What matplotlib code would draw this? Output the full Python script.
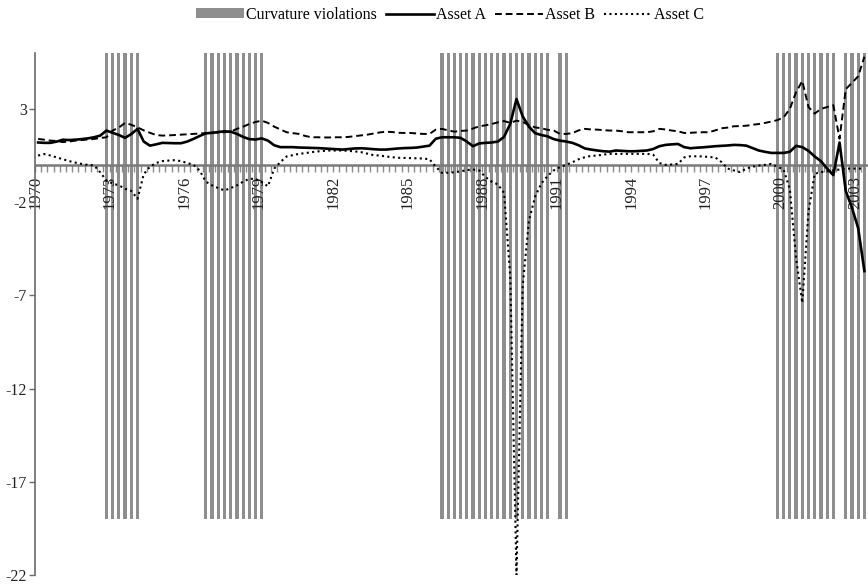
import numpy as np
import matplotlib
matplotlib.use("Agg")
import matplotlib.pyplot as plt
from matplotlib.patches import Patch
from matplotlib.lines import Line2D

plt.rcParams['font.family'] = ['Liberation Serif', 'DejaVu Serif']
plt.rcParams['axes.unicode_minus'] = False

# --- data: quarterly values, 1970Q1 .. 2003Q2 (one row per year) ---
start_year = 1970

asset_a = [
    1.20, 1.18, 1.18, 1.25,   # 1970
    1.35, 1.33, 1.35, 1.38,   # 1971
    1.42, 1.48, 1.57, 1.84,   # 1972
    1.72, 1.60, 1.45, 1.65,   # 1973
    1.93, 1.25, 1.03, 1.10,   # 1974
    1.18, 1.17, 1.16, 1.16,   # 1975
    1.25, 1.39, 1.55, 1.69,   # 1976
    1.72, 1.76, 1.80, 1.78,   # 1977
    1.66, 1.50, 1.38, 1.36,   # 1978
    1.42, 1.30, 1.05, 0.95,   # 1979
    0.95, 0.95, 0.93, 0.92,   # 1980
    0.91, 0.90, 0.88, 0.86,   # 1981
    0.84, 0.82, 0.85, 0.88,   # 1982
    0.89, 0.87, 0.84, 0.82,   # 1983
    0.82, 0.85, 0.88, 0.90,   # 1984
    0.91, 0.93, 0.98, 1.03,   # 1985
    1.40, 1.48, 1.48, 1.48,   # 1986
    1.45, 1.25, 1.00, 1.15,   # 1987
    1.18, 1.20, 1.25, 1.50,   # 1988
    2.20, 3.53, 2.60, 2.05,   # 1989
    1.70, 1.60, 1.53, 1.38,   # 1990
    1.30, 1.25, 1.18, 1.05,   # 1991
    0.88, 0.82, 0.77, 0.73,   # 1992
    0.71, 0.77, 0.75, 0.73,   # 1993
    0.73, 0.75, 0.77, 0.85,   # 1994
    1.00, 1.07, 1.10, 1.12,   # 1995
    0.95, 0.89, 0.92, 0.94,   # 1996
    0.97, 1.00, 1.02, 1.04,   # 1997
    1.07, 1.06, 1.03, 0.90,   # 1998
    0.77, 0.70, 0.64, 0.64,   # 1999
    0.64, 0.70, 1.02, 0.95,   # 2000
    0.75, 0.45, 0.20, -0.20,  # 2001
    -0.55, 1.20, -1.40, -2.30,  # 2002
    -3.40, -5.70,             # 2003
]

asset_b = [
    1.39, 1.35, 1.30, 1.28,   # 1970
    1.22, 1.25, 1.30, 1.33,   # 1971
    1.36, 1.39, 1.44, 1.48,   # 1972
    1.84, 2.00, 2.25, 2.15,   # 1973
    2.01, 1.85, 1.72, 1.60,   # 1974
    1.57, 1.58, 1.60, 1.62,   # 1975
    1.64, 1.66, 1.68, 1.70,   # 1976
    1.72, 1.74, 1.75, 1.78,   # 1977
    1.93, 2.05, 2.19, 2.30,   # 1978
    2.37, 2.25, 2.05, 1.90,   # 1979
    1.75, 1.70, 1.66, 1.55,   # 1980
    1.48, 1.48, 1.47, 1.47,   # 1981
    1.48, 1.48, 1.50, 1.54,   # 1982
    1.58, 1.62, 1.68, 1.74,   # 1983
    1.78, 1.76, 1.72, 1.71,   # 1984
    1.71, 1.68, 1.66, 1.66,   # 1985
    1.89, 1.93, 1.85, 1.78,   # 1986
    1.82, 1.84, 1.95, 2.07,   # 1987
    2.12, 2.19, 2.28, 2.35,   # 1988
    2.25, 2.37, 2.30, 2.14,   # 1989
    2.01, 1.96, 1.88, 1.84,   # 1990
    1.66, 1.66, 1.70, 1.85,   # 1991
    1.93, 1.90, 1.89, 1.86,   # 1992
    1.84, 1.84, 1.80, 1.75,   # 1993
    1.75, 1.75, 1.75, 1.80,   # 1994
    1.93, 1.90, 1.84, 1.80,   # 1995
    1.71, 1.72, 1.74, 1.75,   # 1996
    1.75, 1.85, 1.96, 2.00,   # 1997
    2.07, 2.08, 2.10, 2.15,   # 1998
    2.19, 2.25, 2.32, 2.40,   # 1999
    2.55, 3.00, 3.90, 4.50,   # 2000
    3.10, 2.75, 3.00, 3.10,   # 2001
    3.20, 1.40, 4.06, 4.40,   # 2002
    4.75, 5.80,               # 2003
]

asset_c = [
    0.50, 0.58, 0.50, 0.40,   # 1970
    0.30, 0.20, 0.12, 0.05,   # 1971
    0.00, -0.03, -0.40, -0.84,  # 1972
    -1.00, -1.10, -1.28, -1.40,  # 1973
    -1.82, -0.50, -0.10, 0.10,  # 1974
    0.20, 0.23, 0.25, 0.20,   # 1975
    0.10, 0.00, -0.30, -0.90,  # 1976
    -1.10, -1.25, -1.37, -1.25,  # 1977
    -1.10, -0.90, -0.75, -0.75,  # 1978
    -0.93, -1.15, -0.20, 0.15,  # 1979
    0.45, 0.52, 0.59, 0.63,   # 1980
    0.68, 0.72, 0.75, 0.77,   # 1981
    0.77, 0.77, 0.75, 0.72,   # 1982
    0.68, 0.60, 0.52, 0.50,   # 1983
    0.45, 0.41, 0.38, 0.37,   # 1984
    0.36, 0.35, 0.34, 0.30,   # 1985
    -0.10, -0.43, -0.42, -0.40,  # 1986
    -0.35, -0.28, -0.25, -0.30,  # 1987
    -0.65, -0.90, -1.05, -1.50,  # 1988
    -6.00, -22.00, -6.50, -3.00,  # 1989
    -1.70, -1.00, -0.60, -0.30,  # 1990
    -0.12, 0.00, 0.14, 0.30,  # 1991
    0.41, 0.48, 0.50, 0.55,   # 1992
    0.59, 0.59, 0.59, 0.59,   # 1993
    0.59, 0.59, 0.59, 0.55,   # 1994
    0.10, 0.00, 0.02, 0.05,   # 1995
    0.40, 0.46, 0.46, 0.45,   # 1996
    0.42, 0.40, 0.15, -0.20,  # 1997
    -0.30, -0.39, -0.20, -0.10,  # 1998
    -0.04, 0.00, 0.05, -0.10,  # 1999
    -0.25, -1.30, -5.00, -7.40,  # 2000
    -2.50, -0.48, -0.39, -0.35,  # 2001
    -0.30, -0.25, -0.20, -0.20,  # 2002
    -0.20, -0.20,             # 2003
]

violations = [
    "1972Q4", "1973Q1", "1973Q2", "1973Q3", "1973Q4", "1974Q1",
    "1976Q4", "1977Q1", "1977Q2", "1977Q3", "1977Q4",
    "1978Q1", "1978Q2", "1978Q3", "1978Q4", "1979Q1",
    "1986Q2", "1986Q3", "1986Q4", "1987Q1", "1987Q2", "1987Q3", "1987Q4",
    "1988Q1", "1988Q2", "1988Q3", "1988Q4", "1989Q1", "1989Q2", "1989Q3",
    "1989Q4", "1990Q1", "1990Q2", "1990Q3",
    "1991Q1", "1991Q2",
    "1999Q4", "2000Q1", "2000Q2", "2000Q3", "2000Q4",
    "2001Q1", "2001Q2", "2001Q3", "2001Q4", "2002Q1",
    "2002Q3", "2002Q4", "2003Q1", "2003Q2",
]

year_ticks = [1970, 1973, 1976, 1979, 1982, 1985, 1988, 1991, 1994, 1997, 2000, 2003]
y_ticks = [3, -2, -7, -12, -17, -22]

# positions: middle of each quarter
x = start_year + np.arange(len(asset_a)) / 4 + 0.125
viol_x = [int(q[:4]) + (int(q[-1]) - 1) / 4 + 0.125 for q in violations]

fig = plt.figure(figsize=(8.68, 5.86), dpi=100)
ax = fig.add_axes([35 / 868, 11 / 586, 832.5 / 868, 522 / 586])

ax.bar(viol_x, 25, bottom=-19, width=0.13, color='#8e8e8e', zorder=1)

ax.plot(x, asset_a, color='black', lw=1.9, zorder=3)
ax.plot(x, asset_b, color='black', lw=1.4, ls=(0, (3.5, 2)), zorder=3)
ax.plot(x, asset_c, color='black', lw=1.5, ls=(0, (1, 1.6)), zorder=3)

ax.set_xlim(1970, 2003.5)
ax.set_ylim(-22, 6)

for s in ['top', 'right']:
    ax.spines[s].set_visible(False)
ax.spines['bottom'].set_position(('data', 0))
ax.spines['bottom'].set_color('#7a7a7a')
ax.spines['bottom'].set_linewidth(1.8)
ax.spines['left'].set_color('#6a6a6a')
ax.spines['left'].set_linewidth(1.2)

ax.set_xticks(year_ticks)
ax.set_xticklabels([str(y) for y in year_ticks], rotation=90, fontsize=12, color='#222222')
ax.set_xticks(np.arange(1970, 2003.5, 0.25), minor=True)
ax.tick_params(axis='x', which='both', direction='out', length=5, width=1,
               color='#8a8a8a', pad=3)
ax.set_yticks(y_ticks)
ax.set_yticklabels([str(v) for v in y_ticks], fontsize=11.5, color='#222222')
ax.tick_params(axis='y', direction='out', length=4, width=1, color='#6a6a6a', pad=2)

handles = [
    Patch(facecolor='#8e8e8e', edgecolor='none'),
    Line2D([], [], color='black', lw=1.9),
    Line2D([], [], color='black', lw=1.4, ls=(0, (3.5, 2))),
    Line2D([], [], color='black', lw=1.5, ls=(0, (1, 1.6))),
]
labels = ['Curvature violations', 'Asset A', 'Asset B', 'Asset C']
fig.legend(handles, labels, loc='center', bbox_to_anchor=(450 / 868, 1 - 15 / 586),
           ncol=4, frameon=False, fontsize=11.5, handlelength=3.0,
           handleheight=0.6, handletextpad=0.1, columnspacing=0.6)

fig.savefig('out.png', dpi=100)
